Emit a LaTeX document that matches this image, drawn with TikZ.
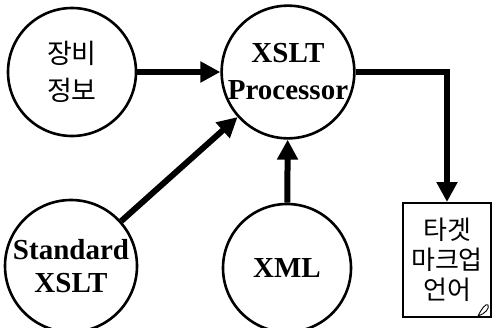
\documentclass[tikz,border=0pt]{standalone}
\usepackage{fontspec}
\setmainfont{Liberation Serif}
\newfontfamily\kofont{Noto Sans CJK KR}
\usetikzlibrary{arrows.meta}
\begin{document}
\begin{tikzpicture}[x=1pt,y=-1pt,
  bubble/.style={circle,draw,line width=2.6pt,minimum size=128pt,inner sep=0pt,align=center},
  latin/.style={font=\bfseries\fontsize{29}{33}\selectfont},
  korean/.style={font=\kofont\fontsize{27}{37}\selectfont},
  flow/.style={line width=6pt,-{Triangle[length=20pt,width=20pt]}}]
\useasboundingbox (0,0) rectangle (493,327);
\node[bubble,korean] (info) at (72,72) {장비\\정보};
\node[bubble,minimum size=132pt,font=\bfseries\fontsize{29}{37}\selectfont] (proc) at (288,72) {XSLT\\Processor};
\node[bubble,latin,minimum size=132pt] (std) at (71,266) {Standard\\XSLT};
\node[bubble,latin] (xml) at (287,268) {XML};
\node[draw,line width=2pt,minimum width=88pt,minimum height=114pt,inner sep=0pt,
  font=\kofont\fontsize{26}{30}\selectfont,align=center] (target) at (447,260) {타겟\\마크업\\언어};
% small curl at the lower right corner of the target box
\draw[line width=0.9pt] (478,316) .. controls (482,308) and (486,303) .. (488,305)
  .. controls (490,308) and (485,314) .. (478,316);
\draw[flow] (info) -- (proc);
\draw[flow] (std) -- (proc);
\draw[flow] (xml) -- (proc);
\coordinate (bend) at (target.north |- proc.east);
\draw[flow] (proc.east) -- (bend) -- (target.north);
\end{tikzpicture}
\end{document}
